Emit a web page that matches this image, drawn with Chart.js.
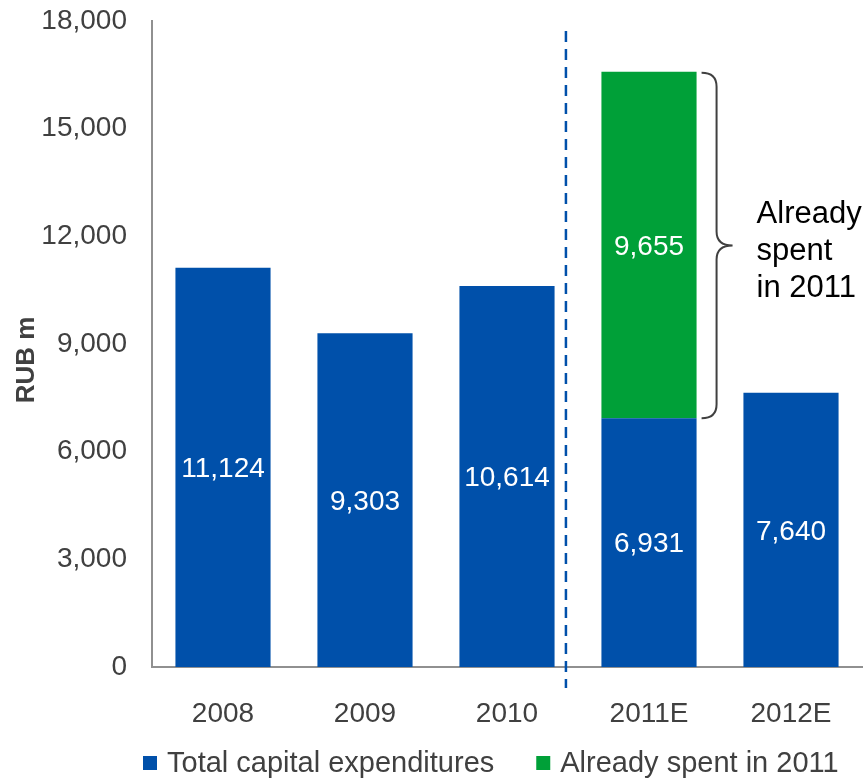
<!DOCTYPE html>
<html>
<head>
<meta charset="utf-8">
<script src="https://cdn.jsdelivr.net/npm/chart.js@4/dist/chart.umd.min.js"></script>
<style>
  html, body { margin: 0; padding: 0; background: #fff; }
  #wrap { width: 868px; height: 779px; }
</style>
</head>
<body>
<div id="wrap"><canvas id="capexChart"></canvas></div>
<script>
const years = ["2008", "2009", "2010", "2011E", "2012E"];
const totalCapex = [11124, 9303, 10614, 6931, 7640];
const spent2011 = [null, null, null, 9655, null];
const yTicks = [0, 3000, 6000, 9000, 12000, 15000, 18000];
const yTitle = "RUB m";

const BLUE = "#0050aa";
const GREEN = "#00a038";
const FONT = "'Liberation Sans', Arial, sans-serif";

// white value labels in the middle of each bar segment
const barValues = {
  id: "barValues",
  afterDatasetsDraw(chart) {
    const ctx = chart.ctx;
    ctx.save();
    ctx.fillStyle = "#fff";
    ctx.font = "28px " + FONT;
    ctx.textAlign = "center";
    ctx.textBaseline = "middle";
    chart.data.datasets.forEach((ds, i) => {
      chart.getDatasetMeta(i).data.forEach((bar, j) => {
        const v = ds.data[j];
        if (v == null) return;
        const mid = (bar.y + bar.base) / 2;
        ctx.fillText(v.toLocaleString("en-US"), bar.x, mid + 2);
      });
    });
    ctx.restore();
  },
};

// dashed separator between actuals and estimates, brace, note, axis title, legend
const extras = {
  id: "extras",
  afterDraw(chart) {
    const ctx = chart.ctx;
    const x = chart.scales.x;
    const y = chart.scales.y;
    const area = chart.chartArea;
    ctx.save();

    const sepX = x.getPixelForValue(2.415);
    ctx.strokeStyle = BLUE;
    ctx.lineWidth = 2.5;
    ctx.setLineDash([11, 7]);
    ctx.beginPath();
    ctx.moveTo(sepX, area.top + 10);
    ctx.lineTo(sepX, area.bottom + 21);
    ctx.stroke();
    ctx.setLineDash([]);

    // curly brace over the already spent part of 2011E
    const bar = chart.getDatasetMeta(1).data[3];
    const top = y.getPixelForValue(totalCapex[3] + spent2011[3]) + 1;
    const bot = y.getPixelForValue(totalCapex[3]);
    const x0 = bar.x + bar.width / 2 + 5;
    const xm = x0 + 15;
    const tip = x0 + 31;
    const mid = (top + bot) / 2;
    const r = 14;
    ctx.strokeStyle = "#404040";
    ctx.lineWidth = 2;
    ctx.beginPath();
    ctx.moveTo(x0, top);
    ctx.quadraticCurveTo(xm, top, xm, top + r);
    ctx.lineTo(xm, mid - r);
    ctx.quadraticCurveTo(xm, mid, tip, mid);
    ctx.quadraticCurveTo(xm, mid, xm, mid + r);
    ctx.lineTo(xm, bot - r);
    ctx.quadraticCurveTo(xm, bot, x0, bot);
    ctx.stroke();

    ctx.fillStyle = "#000";
    ctx.font = "31px " + FONT;
    ctx.textAlign = "left";
    ctx.textBaseline = "middle";
    ["Already", "spent", "in 2011"].forEach((t, i) => {
      ctx.fillText(t, tip + 24, mid - 31 + i * 37);
    });

    // rotated y axis title
    ctx.save();
    ctx.translate(27, 360);
    ctx.rotate(-Math.PI / 2);
    ctx.textAlign = "center";
    ctx.fillStyle = "#404040";
    ctx.font = "bold 26px " + FONT;
    ctx.fillText(yTitle, 0, 0);
    ctx.restore();

    // legend row
    ctx.font = "29px " + FONT;
    let lx = 143;
    const ly = 763;
    chart.data.datasets.forEach((ds) => {
      ctx.fillStyle = ds.backgroundColor;
      ctx.fillRect(lx, ly - 7, 14, 14);
      ctx.fillStyle = "#404040";
      ctx.fillText(ds.label, lx + 24, ly + 1);
      lx += 24 + ctx.measureText(ds.label).width + 42;
    });

    ctx.restore();
  },
};

new Chart(document.getElementById("capexChart"), {
  type: "bar",
  data: {
    labels: years,
    datasets: [
      {
        label: "Total capital expenditures",
        data: totalCapex,
        backgroundColor: BLUE,
        barPercentage: 0.67,
        categoryPercentage: 1,
      },
      {
        label: "Already spent in 2011",
        data: spent2011,
        backgroundColor: GREEN,
        barPercentage: 0.67,
        categoryPercentage: 1,
      },
    ],
  },
  options: {
    responsive: true,
    maintainAspectRatio: false,
    animation: false,
    layout: { padding: { top: 21, right: 6, left: 0, bottom: 0 } },
    plugins: {
      legend: { display: false },
      tooltip: { enabled: false },
    },
    scales: {
      x: {
        stacked: true,
        grid: { display: false, drawTicks: false },
        border: { color: "#909090", width: 2 },
        ticks: {
          color: "#404040",
          font: { family: FONT, size: 28 },
          padding: 30,
        },
        afterFit(scale) {
          scale.height = 112;
        },
      },
      y: {
        stacked: true,
        min: 0,
        max: 18000,
        grid: { display: false, drawTicks: false },
        border: { color: "#909090", width: 2 },
        afterBuildTicks(scale) {
          scale.ticks = yTicks.map((v) => ({ value: v }));
        },
        ticks: {
          color: "#404040",
          font: { family: FONT, size: 28 },
          padding: 25,
          callback: (v) => v.toLocaleString("en-US"),
        },
        afterFit(scale) {
          scale.width = 152;
          scale.paddingTop = 0;
          scale.paddingBottom = 0;
        },
      },
    },
  },
  plugins: [barValues, extras],
});
</script>
</body>
</html>
